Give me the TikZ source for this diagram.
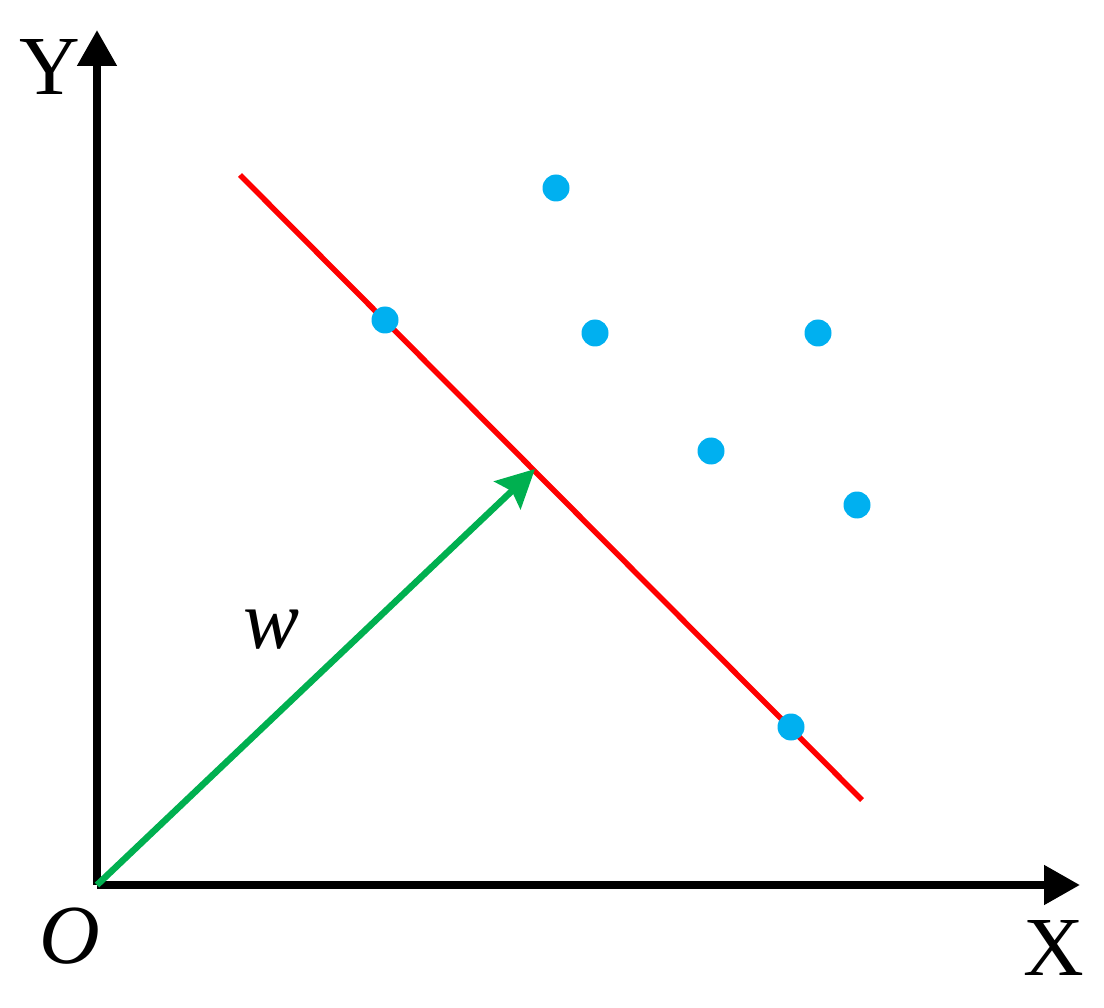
\documentclass[tikz,border=0pt]{standalone}
\usepackage{fontspec}
\setmainfont{Liberation Serif}
\usetikzlibrary{arrows.meta}
\definecolor{dotblue}{HTML}{00B0F0}
\definecolor{vecgreen}{HTML}{00B050}
\tikzset{
  axis/.style={line width=8pt, -{Triangle[length=36pt,width=38pt]}},
  sep/.style={draw=red, line width=5.5pt},
  vec/.style={draw=vecgreen, line width=6.5pt, -{Stealth[length=38pt,width=38pt,inset=6pt]}},
  pt/.style={circle, fill=dotblue, minimum size=27pt, inner sep=0pt},
  lab/.style={font=\fontsize{84}{84}\selectfont, inner sep=0pt}
}
\begin{document}
\begin{tikzpicture}[x=1pt,y=-1pt]
\useasboundingbox (0,0) rectangle (1104,1008);
\coordinate (O) at (97,885);
\coordinate (Ytip) at (97,30);
\coordinate (Xtip) at (1080,885);
\draw[axis] (O) -- (Ytip);
\draw[axis] (O) -- (Xtip);
\coordinate (R1) at (240,175);
\coordinate (R2) at (862,800);
\draw[sep] (R1) -- (R2);
\coordinate (Wtip) at (535,469);
\draw[vec] (O) -- (Wtip);
\node[pt] (p1) at (385,320) {};
\node[pt] (p2) at (556,188) {};
\node[pt] (p3) at (595,333) {};
\node[pt] (p4) at (818,333) {};
\node[pt] (p5) at (711,451) {};
\node[pt] (p6) at (857,505) {};
\node[pt] (p7) at (791,727) {};
\node[lab] (ly) at (50,67) {Y};
\node[lab] (lx) at (1054,948) {X};
\node[lab] (lo) at (70,936) {\itshape O};
\node[lab] (lw) at (272,630) {\itshape w};
\end{tikzpicture}
\end{document}
